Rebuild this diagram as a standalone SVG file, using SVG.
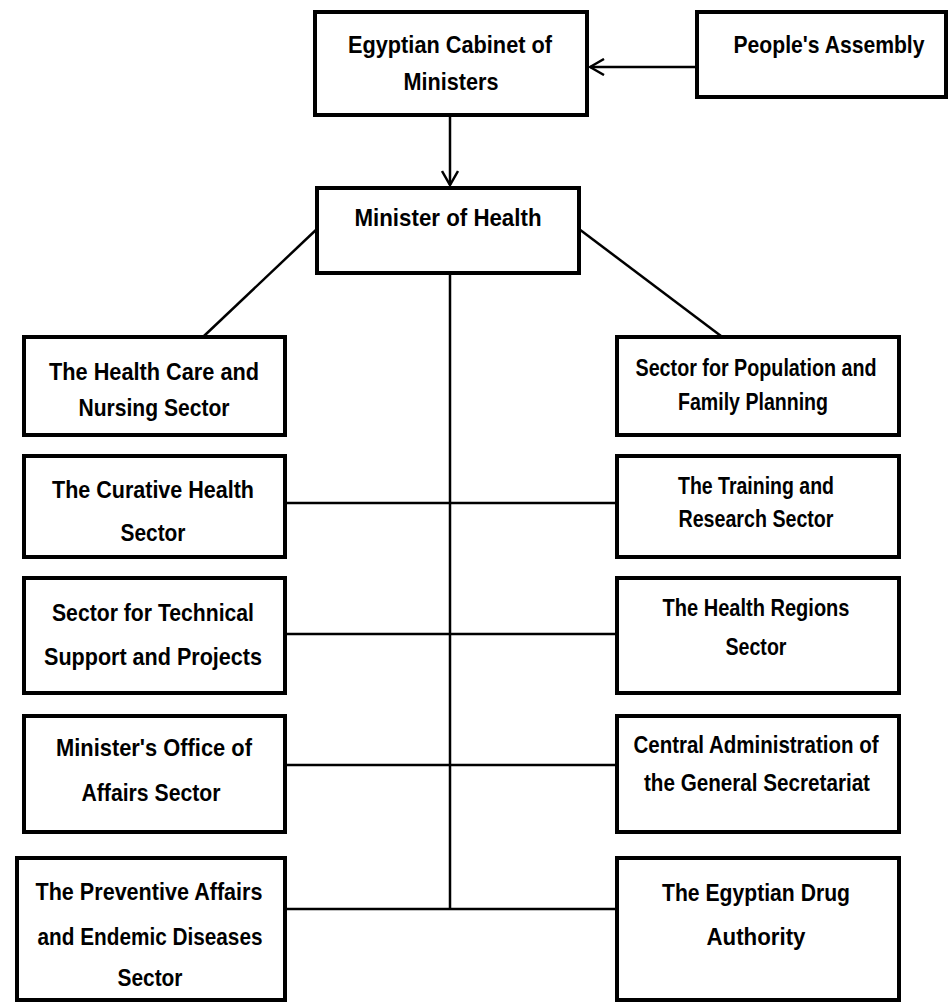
<svg xmlns="http://www.w3.org/2000/svg" width="949" height="1004" viewBox="0 0 949 1004">
<style>
.box{fill:#fff;stroke:#000;stroke-width:4}
.t{font-family:"Liberation Sans",Arial,sans-serif;font-weight:bold;font-size:24px;fill:#000;text-anchor:middle}
.c{stroke:#000;stroke-width:2.5;fill:none}
</style>
<defs>
<marker id="arr" viewBox="0 0 16 18" refX="15" refY="9" markerWidth="16" markerHeight="18" markerUnits="userSpaceOnUse" orient="auto">
<path d="M1,1 L15,9 L1,17" fill="none" stroke="#000" stroke-width="2.5"/>
</marker>
</defs>
<g id="connectors">
<line class="c" x1="697" y1="67" x2="590" y2="67" marker-end="url(#arr)"/>
<line class="c" x1="450" y1="115" x2="450" y2="185" marker-end="url(#arr)"/>
<line class="c" x1="318" y1="228" x2="204" y2="336"/>
<line class="c" x1="579" y1="229" x2="721" y2="336"/>
<line class="c" x1="450" y1="273" x2="450" y2="910"/>
<line class="c" x1="285" y1="503" x2="617" y2="503"/>
<line class="c" x1="285" y1="634" x2="617" y2="634"/>
<line class="c" x1="285" y1="765" x2="617" y2="765"/>
<line class="c" x1="285" y1="909" x2="617" y2="909"/>
</g>
<g id="cabinet">
<rect class="box" x="315" y="12" width="272" height="103"/>
<text class="t" x="450" y="53" textLength="204" lengthAdjust="spacingAndGlyphs">Egyptian Cabinet of</text>
<text class="t" x="451" y="90" textLength="95" lengthAdjust="spacingAndGlyphs">Ministers</text>
</g>
<g id="assembly">
<rect class="box" x="697" y="12" width="249" height="85"/>
<text class="t" x="829" y="53" textLength="191" lengthAdjust="spacingAndGlyphs">People's Assembly</text>
</g>
<g id="minister">
<rect class="box" x="317" y="188" width="262" height="85"/>
<text class="t" x="448" y="226" textLength="187" lengthAdjust="spacingAndGlyphs">Minister of Health</text>
</g>
<g id="healthcare">
<rect class="box" x="24" y="337" width="261" height="98"/>
<text class="t" x="154" y="380" textLength="210" lengthAdjust="spacingAndGlyphs">The Health Care and</text>
<text class="t" x="154" y="416" textLength="151" lengthAdjust="spacingAndGlyphs">Nursing Sector</text>
</g>
<g id="population">
<rect class="box" x="617" y="337" width="282" height="98"/>
<text class="t" x="756" y="376" textLength="241" lengthAdjust="spacingAndGlyphs">Sector for Population and</text>
<text class="t" x="753" y="410" textLength="150" lengthAdjust="spacingAndGlyphs">Family Planning</text>
</g>
<g id="curative">
<rect class="box" x="24" y="456" width="261" height="101"/>
<text class="t" x="153" y="498" textLength="202" lengthAdjust="spacingAndGlyphs">The Curative Health</text>
<text class="t" x="153" y="541" textLength="65" lengthAdjust="spacingAndGlyphs">Sector</text>
</g>
<g id="training">
<rect class="box" x="617" y="456" width="282" height="101"/>
<text class="t" x="756" y="494" textLength="156" lengthAdjust="spacingAndGlyphs">The Training and</text>
<text class="t" x="756" y="527" textLength="155" lengthAdjust="spacingAndGlyphs">Research Sector</text>
</g>
<g id="technical">
<rect class="box" x="24" y="578" width="261" height="115"/>
<text class="t" x="153" y="621" textLength="202" lengthAdjust="spacingAndGlyphs">Sector for Technical</text>
<text class="t" x="153" y="665" textLength="218" lengthAdjust="spacingAndGlyphs">Support and Projects</text>
</g>
<g id="regions">
<rect class="box" x="617" y="578" width="282" height="115"/>
<text class="t" x="756" y="616" textLength="187" lengthAdjust="spacingAndGlyphs">The Health Regions</text>
<text class="t" x="756" y="655" textLength="61" lengthAdjust="spacingAndGlyphs">Sector</text>
</g>
<g id="office">
<rect class="box" x="24" y="716" width="261" height="116"/>
<text class="t" x="154" y="756" textLength="196" lengthAdjust="spacingAndGlyphs">Minister's Office of</text>
<text class="t" x="151" y="801" textLength="139" lengthAdjust="spacingAndGlyphs">Affairs Sector</text>
</g>
<g id="central">
<rect class="box" x="617" y="716" width="282" height="116"/>
<text class="t" x="756" y="753" textLength="245" lengthAdjust="spacingAndGlyphs">Central Administration of</text>
<text class="t" x="757" y="791" textLength="226" lengthAdjust="spacingAndGlyphs">the General Secretariat</text>
</g>
<g id="preventive">
<rect class="box" x="17" y="858" width="268" height="142"/>
<text class="t" x="149" y="900" textLength="227" lengthAdjust="spacingAndGlyphs">The Preventive Affairs</text>
<text class="t" x="150" y="945" textLength="225" lengthAdjust="spacingAndGlyphs">and Endemic Diseases</text>
<text class="t" x="150" y="986" textLength="65" lengthAdjust="spacingAndGlyphs">Sector</text>
</g>
<g id="drug">
<rect class="box" x="617" y="858" width="282" height="142"/>
<text class="t" x="756" y="901" textLength="188" lengthAdjust="spacingAndGlyphs">The Egyptian Drug</text>
<text class="t" x="756" y="945" textLength="99" lengthAdjust="spacingAndGlyphs">Authority</text>
</g>
</svg>
